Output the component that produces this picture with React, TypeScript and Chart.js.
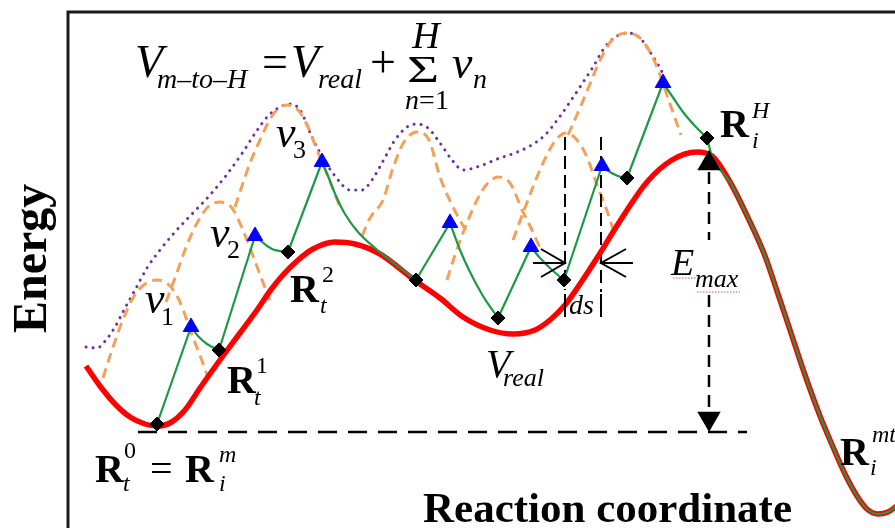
import React, { useEffect, useRef } from "react";
import { Chart, registerables } from "chart.js";

Chart.register(...registerables);

type P = [number, number];

// Schematic coordinates: x = reaction coordinate, y = energy (drawn downward, as in the picture)
const realPotential: P[] = [
  [86, 366], [100, 386], [115, 404], [130, 417], [145, 424], [157, 426], [170, 423], [185, 410],
  [200, 388], [220, 360], [240, 333], [257, 310], [270, 291], [282, 276], [297, 261], [313, 249],
  [335, 242], [355, 244], [380, 254], [413, 279], [440, 298], [463, 317], [490, 330], [513, 334],
  [535, 330], [550, 320], [565, 305], [580, 284], [597, 258], [620, 221], [647, 182], [672, 160],
  [697, 152], [712, 156], [730, 182], [750, 222], [765, 256], [777, 291], [790, 330], [805, 375],
  [820, 416], [833, 447], [845, 474], [857, 496], [867, 509], [878, 514], [888, 512], [897, 506],
];

const diamonds: P[] = [
  [157, 424], [219, 350], [288, 252], [416, 280], [498, 318], [564, 280], [627, 178], [707, 138],
];
const triangles: P[] = [
  [191, 327], [255, 236], [322, 162], [450, 223], [531, 247], [602, 166], [663, 83],
];

const greenDescents: P[][] = [
  [[191, 327], [198, 336], [207, 344], [219, 350]],
  [[255, 236], [262, 242], [272, 249], [288, 252]],
  [[322, 162], [328, 176], [336, 196], [345, 214], [358, 232], [375, 248], [395, 264], [416, 280]],
  [[450, 223], [460, 250], [470, 272], [483, 296], [498, 318]],
  [[531, 247], [540, 258], [552, 270], [564, 280]],
  [[602, 166], [610, 172], [618, 176], [627, 178]],
  [[663, 83], [672, 96], [683, 112], [695, 126], [707, 138]],
];

const biasBumps: P[][] = [
  [[103, 378], [112, 350], [122, 322], [133, 298], [145, 284], [157, 280], [169, 285], [180, 302], [192, 335], [201, 358], [208, 378]],
  [[166, 302], [175, 278], [185, 250], [196, 225], [208, 207], [220, 202], [232, 208], [242, 228], [252, 253], [262, 280], [270, 300]],
  [[235, 207], [242, 186], [250, 163], [260, 140], [272, 116], [286, 105], [298, 110], [308, 127], [317, 150], [327, 174], [340, 207]],
  [[362, 236], [370, 218], [383, 200], [393, 168], [404, 142], [417, 132], [429, 140], [440, 177], [452, 205], [467, 233]],
  [[447, 280], [455, 255], [463, 233], [477, 200], [487, 184], [498, 177], [510, 183], [523, 212], [531, 228], [540, 248]],
  [[513, 240], [523, 213], [533, 187], [543, 163], [555, 141], [566, 133], [577, 140], [587, 157], [597, 185], [606, 208], [614, 232]],
  [[568, 135], [580, 108], [590, 84], [597, 67], [612, 40], [628, 33], [640, 38], [650, 52], [657, 67], [670, 104], [681, 135]],
];

const mToHEnvelope: P[] = [
  [86, 347], [97, 348], [106, 340], [115, 327], [125, 308], [135, 290], [147, 268], [160, 250],
  [175, 232], [190, 216], [210, 195], [228, 173], [243, 152], [256, 132], [268, 116], [280, 107],
  [290, 104], [300, 110], [312, 137], [323, 158], [335, 176], [350, 190], [362, 190], [372, 180],
  [382, 163], [395, 140], [407, 127], [417, 124], [428, 128], [440, 143], [452, 160], [463, 170],
  [480, 166], [500, 158], [515, 153], [530, 146], [545, 135], [558, 119], [570, 102], [582, 84],
  [593, 67], [605, 47], [617, 36], [628, 33], [640, 38], [650, 52], [660, 68], [664, 76],
];

const minimumLevel = 432;
const minimumLine: P[] = [[138, minimumLevel], [747, minimumLevel]];
const emaxX = 709;
const emaxUpper: P[] = [[emaxX, 172], [emaxX, 240]];
const emaxLower: P[] = [[emaxX, 295], [emaxX, 412]];
const emaxHeads: P[] = [[emaxX, 163.5], [emaxX, 418.5]];
const dsLines: P[][] = [
  [[565, 137], [565, 290]],
  [[601, 137], [601, 292]],
];

const xy = (a: P[]) => a.map(([x, y]) => ({ x, y }));

const SERIF = '"Liberation Serif", "Times New Roman", Times, serif';

const textPlugin = {
  id: "labels",
  afterDatasetsDraw(chart: any) {
    const ctx: CanvasRenderingContext2D = chart.ctx;
    const xs = chart.scales.x;
    const ys = chart.scales.y;
    const X = (v: number) => xs.getPixelForValue(v);
    const Y = (v: number) => ys.getPixelForValue(v);
    ctx.save();
    ctx.fillStyle = "#000";
    ctx.textBaseline = "alphabetic";
    ctx.textAlign = "left";
    const t = (s: string, x: number, y: number, size: number, style = "") => {
      ctx.font = `${style} ${size}px ${SERIF}`;
      ctx.fillText(s, X(x), Y(y));
    };

    // frame
    ctx.strokeStyle = "#1a1a1a";
    ctx.lineWidth = 3;
    ctx.beginPath();
    ctx.moveTo(X(68), Y(528));
    ctx.lineTo(X(68), Y(12));
    ctx.lineTo(X(897), Y(12));
    ctx.stroke();

    // formula
    t("V", 135, 77, 46, "italic");
    t("m\u2013to\u2013H", 157, 88, 28, "italic");
    t("=", 262, 77, 46);
    t("V", 291, 77, 46, "italic");
    t("real", 318, 88, 28, "italic");
    t("+", 370, 77, 46);
    // summation sign, wide and flat
    ctx.save();
    ctx.translate(X(407), Y(82));
    ctx.scale(1.45, 1);
    ctx.font = `38px ${SERIF}`;
    ctx.fillText("\u03A3", 0, 0);
    ctx.restore();
    ctx.textAlign = "center";
    t("H", 426, 48, 38, "italic");
    ctx.font = `italic 28px ${SERIF}`;
    const nW = ctx.measureText("n").width;
    ctx.font = `28px ${SERIF}`;
    const restW = ctx.measureText("=1").width;
    ctx.textAlign = "left";
    const startN = 427 - (nW + restW) / 2;
    t("n", startN, 109, 28, "italic");
    t("=1", startN + nW, 109, 28);
    t("v", 452, 78, 46, "italic");
    t("n", 473, 88, 28, "italic");

    // v labels
    t("v", 145, 313, 44, "italic");
    t("1", 161, 325, 26);
    t("v", 210, 247, 44, "italic");
    t("2", 227, 258, 26);
    t("v", 276, 147, 44, "italic");
    t("3", 293, 158, 26);

    // R labels
    t("R", 227, 393, 40, "bold");
    t("1", 256, 373, 24);
    t("t", 254, 405, 24, "italic");

    t("R", 290, 302, 40, "bold");
    t("2", 322, 282, 24);
    t("t", 320, 313, 24, "italic");

    t("R", 95, 482, 40, "bold");
    t("0", 124, 458, 24);
    t("t", 123, 491, 24, "italic");
    t("=", 150, 482, 40);
    t("R", 185, 482, 40, "bold");
    t("m", 219, 462, 24, "italic");
    t("i", 219, 491, 24, "italic");

    t("R", 720, 137, 40, "bold");
    t("H", 752, 118, 24, "italic");
    t("i", 752, 148, 24, "italic");

    t("R", 840, 465, 40, "bold");
    t("mt", 872, 442, 24, "italic");
    t("i", 870, 475, 24, "italic");

    // V_real
    t("V", 486, 377, 40, "italic");
    t("real", 503, 386, 26, "italic");

    // E_max
    t("E", 671, 275, 38, "italic");
    t("max", 695, 287, 26, "italic");
    ctx.strokeStyle = "#e05050";
    ctx.lineWidth = 1;
    ctx.setLineDash([1.5, 1.5]);
    ctx.beginPath();
    ctx.moveTo(X(673), Y(278));
    ctx.lineTo(X(697), Y(278));
    ctx.moveTo(X(697), Y(292));
    ctx.lineTo(X(740), Y(292));
    ctx.stroke();
    ctx.setLineDash([]);

    // ds with bars
    t("ds", 569, 314, 28, "italic");
    ctx.strokeStyle = "#000";
    ctx.lineWidth = 2;
    ctx.beginPath();
    ctx.moveTo(X(565), Y(294));
    ctx.lineTo(X(565), Y(317));
    ctx.moveTo(X(601), Y(294));
    ctx.lineTo(X(601), Y(317));
    // open arrows
    ctx.moveTo(X(533), Y(263));
    ctx.lineTo(X(565), Y(263));
    ctx.moveTo(X(541), Y(249));
    ctx.lineTo(X(565), Y(263));
    ctx.lineTo(X(541), Y(277));
    ctx.moveTo(X(633), Y(263));
    ctx.lineTo(X(601), Y(263));
    ctx.moveTo(X(626), Y(249));
    ctx.lineTo(X(601), Y(263));
    ctx.lineTo(X(626), Y(277));
    ctx.stroke();

    // axis titles
    ctx.save();
    ctx.translate(X(46), Y(333));
    ctx.rotate(-Math.PI / 2);
    ctx.font = `bold 48px ${SERIF}`;
    ctx.fillText("Energy", 0, 0);
    ctx.restore();
    t("Reaction coordinate", 423, 522, 43, "bold");

    ctx.restore();
  },
};

export default function App() {
  const ref = useRef<HTMLCanvasElement | null>(null);

  useEffect(() => {
    document.body.style.margin = "0";
    const canvas = ref.current;
    if (!canvas) return;

    const line = (data: P[], extra: any) => ({
      data: xy(data),
      pointRadius: 0,
      fill: false,
      tension: 0,
      ...extra,
    });

    const datasets: any[] = [];
    datasets.push({
      data: xy(triangles),
      showLine: false,
      pointStyle: "triangle",
      pointRadius: 9,
      pointBackgroundColor: "#0000ff",
      pointBorderColor: "#0000ff",
      pointBorderWidth: 1,
      order: 0,
    });
    datasets.push({
      data: xy(diamonds),
      showLine: false,
      pointStyle: "rectRot",
      pointRadius: 7,
      pointBackgroundColor: "#000",
      pointBorderColor: "#000",
      pointBorderWidth: 1,
      order: 1,
    });
    datasets.push({
      data: xy(emaxHeads),
      showLine: false,
      pointStyle: "triangle",
      pointRadius: 13.5,
      rotation: [0, 180],
      pointBackgroundColor: "#000",
      pointBorderColor: "#000",
      pointBorderWidth: 0,
      order: 2,
    });
    // green: straight rises between diamond and next triangle
    for (let i = 0; i < triangles.length; i++) {
      datasets.push(line([diamonds[i], triangles[i]], { borderColor: "#1a9a45", borderWidth: 2.2, order: 3 }));
    }
    greenDescents.forEach((seg) =>
      datasets.push(line(seg, { borderColor: "#1a9a45", borderWidth: 2.2, cubicInterpolationMode: "monotone", order: 3 }))
    );
    const tail: P[] = [diamonds[diamonds.length - 1], ...realPotential.filter((p) => p[0] >= 712)];
    datasets.push(line(tail, { borderColor: "#1a9a45", borderWidth: 2.2, cubicInterpolationMode: "monotone", order: 3 }));
    datasets.push(line(realPotential, { borderColor: "#ff0000", borderWidth: 5.5, cubicInterpolationMode: "monotone", order: 4 }));
    datasets.push(line(minimumLine, { borderColor: "#000", borderWidth: 2.5, borderDash: [19, 11], order: 5 }));
    datasets.push(line(emaxUpper, { borderColor: "#000", borderWidth: 2.5, borderDash: [12, 8], order: 5 }));
    datasets.push(line(emaxLower, { borderColor: "#000", borderWidth: 2.5, borderDash: [12, 8], order: 5 }));
    dsLines.forEach((d) => datasets.push(line(d, { borderColor: "#000", borderWidth: 2, borderDash: [13, 6], order: 5 })));
    biasBumps.forEach((b) =>
      datasets.push(line(b, { borderColor: "#f5a05a", borderWidth: 3, borderDash: [10, 6], cubicInterpolationMode: "monotone", order: 6 }))
    );
    datasets.push(
      line(mToHEnvelope, {
        borderColor: "#7030a0",
        borderWidth: 3,
        borderDash: [0.1, 7],
        borderCapStyle: "round",
        cubicInterpolationMode: "monotone",
        order: 7,
      })
    );

    const chart = new Chart(canvas, {
      type: "line",
      data: { datasets },
      options: {
        animation: false,
        responsive: false,
        devicePixelRatio: 1,
        layout: { padding: 0, autoPadding: false },
        plugins: { legend: { display: false }, tooltip: { enabled: false } },
        events: [],
        scales: {
          x: { type: "linear", min: 0, max: 895, display: false },
          y: { type: "linear", min: 0, max: 528, reverse: true, display: false },
        },
      },
      plugins: [textPlugin],
    });
    return () => chart.destroy();
  }, []);

  return (
    <div style={{ position: "fixed", left: 0, top: 0, width: 895, height: 528, background: "#fff" }}>
      <canvas ref={ref} width={895} height={528} />
    </div>
  );
}
